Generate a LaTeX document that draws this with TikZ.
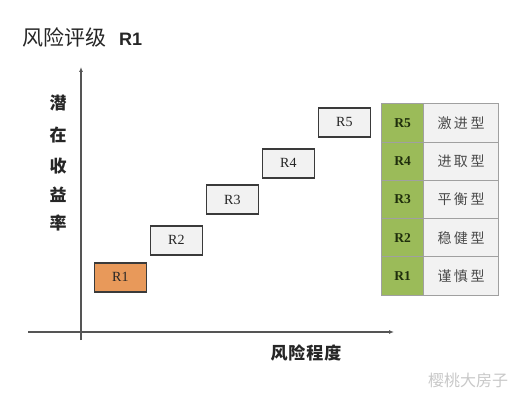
\documentclass[tikz,border=0pt]{standalone}
\usepackage{fontspec}
\setmainfont{Liberation Serif}
\newfontfamily\cjk{Noto Sans CJK SC}
\newfontfamily\hsans{Liberation Sans}
\usetikzlibrary{arrows.meta}
\definecolor{boxfill}{HTML}{F2F2F2}
\definecolor{boxline}{HTML}{3A3A3A}
\definecolor{orangefill}{HTML}{E8995A}
\definecolor{greenfill}{HTML}{9BBB59}
\definecolor{tabline}{HTML}{A0A0A0}
\definecolor{axisgray}{HTML}{555555}
\definecolor{txtgray}{HTML}{4A4A4A}
\definecolor{gtxt}{HTML}{1F2E0C}
\definecolor{wmgray}{HTML}{C8C8C8}
\newcommand{\ls}{\hspace{2.5pt}}
\begin{document}
\begin{tikzpicture}[x=1pt,y=-1pt,
  rbox/.style={draw=boxline,line width=1.7pt,fill=boxfill,minimum width=52pt,minimum height=29pt,inner sep=0pt,font=\fontsize{14}{14}\selectfont,text=black!85,anchor=north west},
  gcell/.style={draw=tabline,line width=1pt,fill=greenfill,minimum width=42.3pt,minimum height=38.3pt,inner sep=0pt,anchor=north west,font=\fontsize{13.5}{13.5}\selectfont\bfseries,text=gtxt},
  wcell/.style={draw=tabline,line width=1pt,fill=boxfill,minimum width=74.4pt,minimum height=38.3pt,inner sep=0pt,anchor=north west,font=\cjk\fontsize{14}{14}\selectfont,text=txtgray},
  axis/.style={draw=axisgray,line width=1.2pt},
  ylab/.style={font=\cjk\bfseries\fontsize{17}{17}\selectfont,text=black!85}
]
\useasboundingbox (0,0) rectangle (511,395);
% title
\node[anchor=west,inner sep=0pt] (title) at (22,37) {\cjk\fontsize{21}{21}\selectfont\color{black!85}风险评级\hspace{13pt}{\hsans\bfseries\fontsize{18}{18}\selectfont R1}};
% axes
\coordinate (yb) at (81,340);
\coordinate (yt) at (81,67);
\coordinate (xl) at (28,332);
\coordinate (xr) at (394,332);
\draw[axis,-{Latex[length=5pt,width=4pt]}] (yb) -- (yt);
\draw[axis,-{Latex[length=5pt,width=4pt]}] (xl) -- (xr);
% y label
\node[ylab] (c1) at (58,103) {潜};
\node[ylab] (c2) at (58,135) {在};
\node[ylab] (c3) at (58,166) {收};
\node[ylab] (c4) at (58,195) {益};
\node[ylab] (c5) at (58,223) {率};
% x label
\node[font=\cjk\bfseries\fontsize{17}{17}\selectfont,text=black!85] (xlab) at (306,353) {风\hspace{1pt}险\hspace{1pt}程\hspace{1pt}度};
% boxes
\node[rbox,fill=orangefill] (r1) at (93.5,262) {R1};
\node[rbox] (r2) at (149.5,225) {R2};
\node[rbox] (r3) at (205.5,184.5) {R3};
\node[rbox] (r4) at (261.5,148) {R4};
\node[rbox] (r5) at (317.5,107) {R5};
% table
\node[gcell] (g5) at (381,103.3) {R5};
\node[gcell] (g4) at (381,141.6) {R4};
\node[gcell] (g3) at (381,179.9) {R3};
\node[gcell] (g2) at (381,218.2) {R2};
\node[gcell] (g1) at (381,256.5) {R1};
\node[wcell] (w5) at (423.3,103.3) {激\ls 进\ls 型};
\node[wcell] (w4) at (423.3,141.6) {进\ls 取\ls 型};
\node[wcell] (w3) at (423.3,179.9) {平\ls 衡\ls 型};
\node[wcell] (w2) at (423.3,218.2) {稳\ls 健\ls 型};
\node[wcell] (w1) at (423.3,256.5) {谨\ls 慎\ls 型};
% watermark
\node[font=\cjk\fontsize{16}{16}\selectfont,text=wmgray] (wm) at (468,380) {樱桃大房子};
\end{tikzpicture}
\end{document}
